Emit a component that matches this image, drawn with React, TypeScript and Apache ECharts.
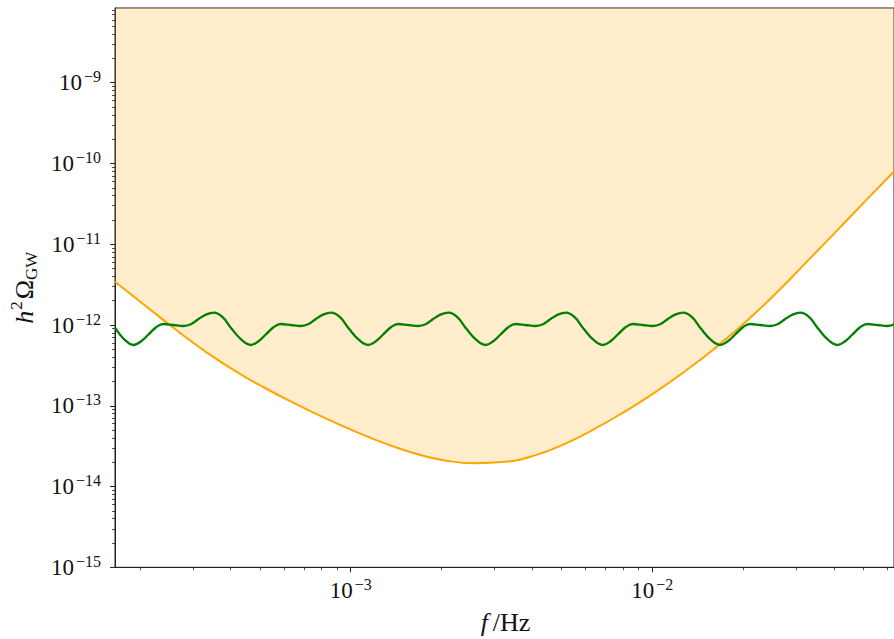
import React, { useEffect, useRef } from "react";
import * as echarts from "echarts";

// ---- axis ranges & ticks ----
const X_MIN = 1.654e-4;
const X_MAX = 6.329e-2;
const Y_MIN = 0.99999e-15;
const Y_MAX = 8.42e-9;

const X_MAJOR = [1e-3, 1e-2];
const Y_MAJOR = [1e-15, 1e-14, 1e-13, 1e-12, 1e-11, 1e-10, 1e-9];

const minorTicks = (fromExp: number, toExp: number): number[] => {
  const out: number[] = [];
  for (let e = fromExp; e <= toExp; e++) {
    for (let k = 2; k <= 9; k++) out.push(Number(`${k}e${e}`));
  }
  return out;
};
const X_MINOR = minorTicks(-4, -2);
const Y_MINOR = minorTicks(-15, -9);

// ---- orange sensitivity curve (h^2 Omega vs f) ----
const ORANGE_F = [
  1.654e-4, 2.08e-4, 2.615e-4, 3.288e-4, 4.133e-4, 5.197e-4, 6.535e-4, 8.219e-4,
  1.0334e-3, 1.299e-3, 1.6334e-3, 2.0542e-3, 2.5832e-3, 3.2476e-3, 4.084e-3,
  5.1346e-3, 6.4565e-3, 8.1189e-3, 1.021e-2, 1.2839e-2, 1.614e-2, 2.0297e-2,
  2.5513e-2, 3.2082e-2, 4.0345e-2, 5.072e-2, 6.329e-2,
];
const ORANGE_OMEGA = [
  3.437e-12, 1.748e-12, 8.92e-13, 4.74e-13, 2.702e-13, 1.66e-13, 1.064e-13, 7.037e-14,
  4.817e-14, 3.421e-14, 2.566e-14, 2.107e-14, 1.94e-14, 2.024e-14, 2.429e-14,
  3.382e-14, 5.2e-14, 8.517e-14, 1.468e-13, 2.679e-13, 5.162e-13, 1.071e-12,
  2.406e-12, 5.756e-12, 1.393e-11, 3.391e-11, 7.973e-11,
];

// ---- green oscillating signal ----
const GREEN_F = [
  1.654e-4, 1.779e-4, 1.905e-4, 2.025e-4, 2.135e-4, 2.27e-4, 2.395e-4, 2.585e-4,
  2.789e-4, 2.964e-4, 3.128e-4, 3.324e-4, 3.519e-4,
  3.769e-4, 4.036e-4, 4.357e-4, 4.666e-4, 4.958e-4, 5.229e-4, 5.56e-4, 5.866e-4,
  6.331e-4, 6.83e-4, 7.26e-4, 7.661e-4, 8.139e-4, 8.62e-4,
  9.232e-4, 9.887e-4, 1.0672e-3, 1.143e-3, 1.2146e-3, 1.2809e-3, 1.362e-3, 1.437e-3,
  1.5507e-3, 1.6731e-3, 1.7783e-3, 1.8766e-3, 1.9938e-3, 2.112e-3,
  2.262e-3, 2.4225e-3, 2.6147e-3, 2.8005e-3, 2.9758e-3, 3.1384e-3, 3.337e-3, 3.5207e-3,
  3.7995e-3, 4.0994e-3, 4.3571e-3, 4.5978e-3, 4.8851e-3, 5.17e-3,
  5.537e-3, 5.93e-3, 6.4e-3, 6.855e-3, 7.285e-3, 7.683e-3, 8.169e-3, 8.618e-3,
  9.301e-3, 1.0035e-2, 1.0666e-2, 1.1255e-2, 1.1958e-2, 1.2666e-2,
  1.3565e-2, 1.4528e-2, 1.568e-2, 1.6795e-2, 1.7846e-2, 1.8822e-2, 2.0012e-2, 2.1114e-2,
  2.2786e-2, 2.4585e-2, 2.613e-2, 2.7574e-2, 2.9296e-2, 3.1e-2,
  3.32e-2, 3.556e-2, 3.838e-2, 4.111e-2, 4.368e-2, 4.607e-2, 4.898e-2, 5.168e-2,
  5.577e-2, 6.017e-2, 6.395e-2,
];
const GREEN_OMEGA = [
  9.3e-13, 6.6e-13, 5.66e-13, 6.34e-13, 7.63e-13, 9.45e-13, 1.03e-12, 1.0e-12,
  9.72e-13, 1.03e-12, 1.186e-12, 1.356e-12, 1.42e-12,
  1.24e-12, 8.9e-13, 6.5e-13, 5.66e-13, 6.34e-13, 7.63e-13, 9.45e-13, 1.03e-12,
  1.0e-12, 9.72e-13, 1.03e-12, 1.186e-12, 1.356e-12, 1.42e-12,
  1.24e-12, 8.9e-13, 6.5e-13, 5.66e-13, 6.34e-13, 7.63e-13, 9.45e-13, 1.03e-12,
  1.0e-12, 9.72e-13, 1.03e-12, 1.186e-12, 1.356e-12, 1.42e-12,
  1.24e-12, 8.9e-13, 6.5e-13, 5.66e-13, 6.34e-13, 7.63e-13, 9.45e-13, 1.03e-12,
  1.0e-12, 9.72e-13, 1.03e-12, 1.186e-12, 1.356e-12, 1.42e-12,
  1.24e-12, 8.9e-13, 6.5e-13, 5.66e-13, 6.34e-13, 7.63e-13, 9.45e-13, 1.03e-12,
  1.0e-12, 9.72e-13, 1.03e-12, 1.186e-12, 1.356e-12, 1.42e-12,
  1.24e-12, 8.9e-13, 6.5e-13, 5.66e-13, 6.34e-13, 7.63e-13, 9.45e-13, 1.03e-12,
  1.0e-12, 9.72e-13, 1.03e-12, 1.186e-12, 1.356e-12, 1.42e-12,
  1.24e-12, 8.9e-13, 6.5e-13, 5.66e-13, 6.34e-13, 7.63e-13, 9.45e-13, 1.03e-12,
  1.0e-12, 9.72e-13, 1.03e-12,
];

const SERIF = "'Liberation Serif', 'DejaVu Serif', serif";
const INK = "#111";
const SPINE = "#222";

const powLabel = (v: number) => {
  const e = Math.round(Math.log10(v));
  const s = e < 0 ? "\u2212" + String(-e) : String(e);
  return `{b|10}{s|${s}}`;
};

const labelRich = {
  b: { fontFamily: SERIF, fontSize: 23, color: INK, lineHeight: 28 },
  s: { fontFamily: SERIF, fontSize: 16, color: INK, verticalAlign: "top" as const, padding: [0, 0, 0, 2] },
};

export default function App() {
  const ref = useRef<HTMLDivElement>(null);

  useEffect(() => {
    if (!ref.current) return;
    const chart = echarts.init(ref.current, undefined, { renderer: "svg" });

    const majorX = {
      type: "log" as const,
      min: X_MIN,
      max: X_MAX,
      position: "bottom" as const,
      axisLine: { show: true, lineStyle: { color: SPINE, width: 1 } },
      axisTick: { show: true, customValues: X_MAJOR, length: 5, lineStyle: { color: SPINE, width: 1 } },
      axisLabel: { show: true, customValues: X_MAJOR, formatter: powLabel, rich: labelRich, margin: 9 },
      splitLine: { show: false },
      name: "{i|f}{r|/Hz}",
      nameLocation: "middle" as const,
      nameGap: 42,
      nameTextStyle: {
        rich: {
          i: { fontFamily: SERIF, fontSize: 26, fontStyle: "italic" as const, color: INK, padding: [0, 5, 0, 2] },
          r: { fontFamily: SERIF, fontSize: 26, color: INK },
        },
      },
    };
    const minorX = {
      type: "log" as const,
      min: X_MIN,
      max: X_MAX,
      position: "bottom" as const,
      axisLine: { show: false },
      axisTick: { show: true, customValues: X_MINOR, length: 3, lineStyle: { color: SPINE, width: 0.8 } },
      axisLabel: { show: false },
      splitLine: { show: false },
    };
    const majorY = {
      type: "log" as const,
      min: Y_MIN,
      max: Y_MAX,
      position: "left" as const,
      axisLine: { show: true, lineStyle: { color: SPINE, width: 1 } },
      axisTick: { show: true, customValues: Y_MAJOR, length: 5, lineStyle: { color: SPINE, width: 1 } },
      axisLabel: { show: true, customValues: Y_MAJOR, formatter: powLabel, rich: labelRich, margin: 14 },
      splitLine: { show: false },
      name: "{i|h}{s|2}{r|\u03A9}{sub|GW}",
      nameLocation: "middle" as const,
      nameGap: 74,
      nameRotate: 90,
      nameTextStyle: {
        rich: {
          i: { fontFamily: SERIF, fontSize: 26, fontStyle: "italic" as const, color: INK, lineHeight: 32 },
          s: { fontFamily: SERIF, fontSize: 17, color: INK, verticalAlign: "top" as const, padding: [0, 2, 0, 1] },
          r: { fontFamily: SERIF, fontSize: 26, color: INK, lineHeight: 32 },
          sub: { fontFamily: SERIF, fontSize: 17, color: INK, verticalAlign: "bottom" as const },
        },
      },
    };
    const minorY = {
      type: "log" as const,
      min: Y_MIN,
      max: Y_MAX,
      position: "left" as const,
      axisLine: { show: false },
      axisTick: { show: true, customValues: Y_MINOR, length: 3, lineStyle: { color: SPINE, width: 0.8 } },
      axisLabel: { show: false },
      splitLine: { show: false },
    };

    chart.setOption({
      animation: false,
      backgroundColor: "#ffffff",
      grid: {
        left: 115,
        right: 0,
        top: 8,
        bottom: 71.7,
        containLabel: false,
        outerBoundsMode: "none",
        show: true,
        borderColor: SPINE,
        borderWidth: 1,
        backgroundColor: "transparent",
      },
      xAxis: [majorX, minorX],
      yAxis: [majorY, minorY],
      series: [
        {
          type: "line",
          xAxisIndex: 0,
          yAxisIndex: 0,
          data: ORANGE_F.map((f, i) => [f, ORANGE_OMEGA[i]]),
          smooth: 0.5,
          symbol: "none",
          silent: true,
          lineStyle: { color: "#FFA500", width: 2 },
          areaStyle: { color: "rgba(255,165,0,0.2)", opacity: 1, origin: "end" },
          z: 2,
        },
        {
          type: "line",
          xAxisIndex: 0,
          yAxisIndex: 0,
          data: GREEN_F.map((f, i) => [f, GREEN_OMEGA[i]]),
          smooth: 0.4,
          symbol: "none",
          silent: true,
          lineStyle: { color: "#008000", width: 2.3 },
          z: 3,
        },
      ],
    });

    return () => chart.dispose();
  }, []);

  return (
    <div
      ref={ref}
      style={{ position: "absolute", left: 0, top: 0, width: 894, height: 639 }}
    />
  );
}
